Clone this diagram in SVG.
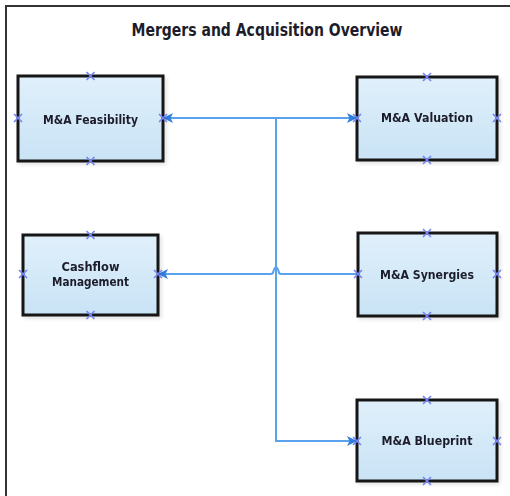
<svg xmlns="http://www.w3.org/2000/svg" width="510" height="496" viewBox="0 0 510 496">
  <defs>
    <linearGradient id="boxFill" x1="0" y1="0" x2="0" y2="1">
      <stop offset="0" stop-color="#e0f0fb"/>
      <stop offset="1" stop-color="#c9e3f5"/>
    </linearGradient>
    <filter id="soft" x="-10%" y="-10%" width="125%" height="125%">
      <feGaussianBlur in="SourceAlpha" stdDeviation="2"/>
      <feOffset dx="2" dy="2"/>
      <feComponentTransfer><feFuncA type="linear" slope="0.12"/></feComponentTransfer>
      <feMerge><feMergeNode/><feMergeNode in="SourceGraphic"/></feMerge>
    </filter>
    <marker id="arrow" viewBox="0 0 10 10" refX="9" refY="5" markerWidth="12" markerHeight="10" markerUnits="userSpaceOnUse" orient="auto">
      <path d="M0,0 L10,5 L0,10 L2.5,5 Z" fill="#2f7fe0"/>
    </marker>
    <path id="pin" d="M-4,-4 L4,4 M-4,4 L4,-4"/>
  </defs>
  <style>
    .frame { stroke: #333; stroke-width: 2; fill: none; }
    .title { font-family: "Liberation Sans Narrow", "DejaVu Sans", sans-serif; font-weight: bold; font-size: 18px; fill: #1c1c2a; text-anchor: middle; }
    .box { fill: url(#boxFill); stroke: #151515; stroke-width: 3; }
    .label { font-family: "Liberation Sans Narrow", "DejaVu Sans", sans-serif; font-weight: bold; font-size: 13px; fill: #1c1c2a; text-anchor: middle; }
    .link { stroke: #5aa2ee; stroke-width: 2; fill: none; }
    .pin { stroke: #7484f2; stroke-width: 1.6; fill: none; }
  </style>

  <rect width="510" height="496" fill="#ffffff"/>
  <path class="frame" d="M510,6 H6 V496"/>
  <text class="title" x="267" y="36" textLength="271" lengthAdjust="spacingAndGlyphs">Mergers and Acquisition Overview</text>

  <!-- connectors -->
  <g id="connectors">
    <path class="link" d="M276,118 H164" marker-end="url(#arrow)"/>
    <path class="link" d="M276,118 H356" marker-end="url(#arrow)"/>
    <path class="link" d="M276,118 V441 H356" marker-end="url(#arrow)"/>
    <path class="link" d="M357,274 H281 Q279,274 278.5,271 Q277,267 276,267 Q275,267 273.5,271 Q273,274 271,274 H159" marker-end="url(#arrow)"/>
  </g>

  <g id="feasibility" filter="url(#soft)">
    <rect class="box" x="18" y="76" width="145" height="85"/>
    <text class="label" x="90.5" y="124" textLength="95" lengthAdjust="spacingAndGlyphs">M&amp;A Feasibility</text>
  </g>
  <g id="valuation" filter="url(#soft)">
    <rect class="box" x="357" y="77" width="140" height="83"/>
    <text class="label" x="427" y="122" textLength="92" lengthAdjust="spacingAndGlyphs">M&amp;A Valuation</text>
  </g>
  <g id="cashflow" filter="url(#soft)">
    <rect class="box" x="23" y="235" width="135" height="80"/>
    <text class="label" x="90.5" y="271" textLength="58" lengthAdjust="spacingAndGlyphs">Cashflow</text>
    <text class="label" x="90.5" y="286" textLength="77" lengthAdjust="spacingAndGlyphs">Management</text>
  </g>
  <g id="synergies" filter="url(#soft)">
    <rect class="box" x="358" y="233" width="139" height="83"/>
    <text class="label" x="427" y="279" textLength="94" lengthAdjust="spacingAndGlyphs">M&amp;A Synergies</text>
  </g>
  <g id="blueprint" filter="url(#soft)">
    <rect class="box" x="357" y="400" width="140" height="81"/>
    <text class="label" x="427" y="445" textLength="91" lengthAdjust="spacingAndGlyphs">M&amp;A Blueprint</text>
  </g>

  <!-- connection points on box edges -->
  <g id="pins" class="pin">
    <use href="#pin" x="90.5" y="76"/><use href="#pin" x="90.5" y="161"/><use href="#pin" x="18" y="118"/><use href="#pin" x="163" y="118"/>
    <use href="#pin" x="427" y="77"/><use href="#pin" x="427" y="160"/><use href="#pin" x="357" y="118"/><use href="#pin" x="497" y="118"/>
    <use href="#pin" x="90.5" y="235"/><use href="#pin" x="90.5" y="315"/><use href="#pin" x="23" y="274"/><use href="#pin" x="158" y="274"/>
    <use href="#pin" x="427" y="233"/><use href="#pin" x="427" y="316"/><use href="#pin" x="358" y="274"/><use href="#pin" x="497" y="274"/>
    <use href="#pin" x="427" y="400"/><use href="#pin" x="427" y="481"/><use href="#pin" x="357" y="441"/><use href="#pin" x="497" y="441"/>
  </g>
</svg>
